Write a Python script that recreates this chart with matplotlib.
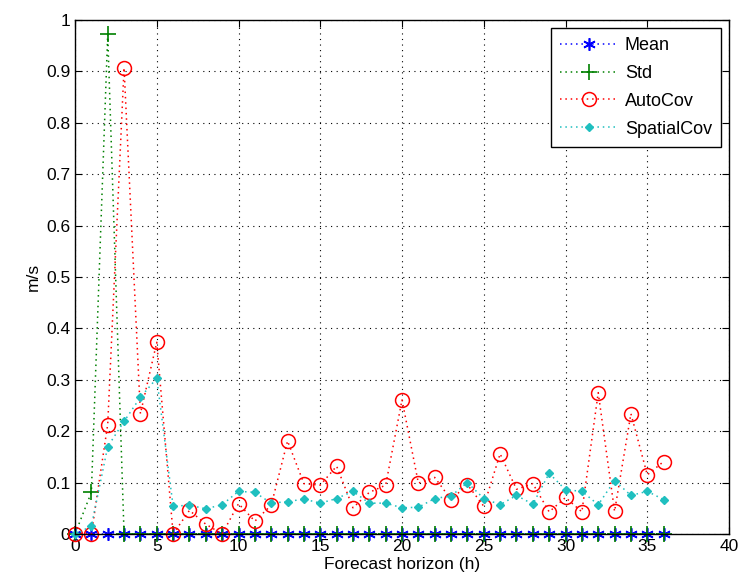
import numpy as np
import matplotlib.pyplot as plt

plt.rcParams['font.family'] = ['Liberation Sans', 'DejaVu Sans']

# forecast horizon (h)
hours = list(range(0, 37))

mean_vals = [0.0] * 37
std_vals = [0.0, 0.081, 0.972] + [0.0] * 34
autocov_vals = [0.0, 0.0, 0.213, 0.907, 0.234, 0.373, 0.0, 0.046, 0.019, 0.0,
                0.059, 0.025, 0.056, 0.181, 0.098, 0.095, 0.132, 0.051, 0.081, 0.095,
                0.261, 0.099, 0.110, 0.067, 0.096, 0.054, 0.156, 0.087, 0.098, 0.043,
                0.071, 0.043, 0.275, 0.044, 0.234, 0.115, 0.141]
spatial_vals = [0.0, 0.015, 0.170, 0.219, 0.266, 0.303, 0.054, 0.056, 0.049, 0.057,
                0.083, 0.081, 0.060, 0.063, 0.068, 0.060, 0.069, 0.083, 0.060, 0.060,
                0.051, 0.052, 0.069, 0.074, 0.100, 0.069, 0.057, 0.075, 0.058, 0.118,
                0.086, 0.083, 0.057, 0.104, 0.075, 0.083, 0.067]

fig = plt.figure(figsize=(7.39, 5.87), dpi=100)
ax = fig.add_axes([0.1015, 0.0903, 0.885, 0.8757])

dots = (0, (1, 2.5))
asterisk = (6, 2, 0)
ax.plot(hours, mean_vals, linestyle=dots, color='blue', marker=asterisk, markersize=9, mew=1.2, lw=1.1,
        label='Mean', clip_on=False, zorder=3)
ax.plot(hours, std_vals, linestyle=dots, color='#008000', marker='+', markersize=11, mew=1.2, lw=1.1,
        label='Std', clip_on=False, zorder=3)
ax.plot(hours, autocov_vals, linestyle=dots, color='red', marker='o', markersize=10, mfc='none', mew=1.1, lw=1.1,
        label='AutoCov', clip_on=False, zorder=3)
ax.plot(hours, spatial_vals, linestyle=dots, color='#1fbfbf', marker='D', markersize=4, lw=1.1,
        label='SpatialCov', clip_on=False, zorder=3)

ax.set_xlim(0, 40)
ax.set_ylim(0, 1)
ax.set_xticks(np.arange(0, 41, 5))
ax.set_yticks(np.arange(0, 1.01, 0.1))
ax.set_yticklabels(['0', '0.1', '0.2', '0.3', '0.4', '0.5', '0.6', '0.7', '0.8', '0.9', '1'])
ax.tick_params(direction='in', top=True, right=True, labelsize=12.5, length=5)
ax.grid(True, color='black', linestyle=(0, (1, 4)), linewidth=0.8)
for s in ax.spines.values():
    s.set_linewidth(1)
    s.set_zorder(4)

ax.set_xlabel('Forecast horizon (h)', fontsize=12.5, labelpad=2)
ax.set_ylabel('m/s', fontsize=12.5)

leg = ax.legend(loc='upper right', fontsize=13, fancybox=False, framealpha=1,
                edgecolor='black', handlelength=3.2, handletextpad=0.4, borderaxespad=0.45,
                labelspacing=0.6, borderpad=0.5)
leg.get_frame().set_linewidth(1)
leg.set_zorder(5)

fig.savefig('out.png', dpi=100)
